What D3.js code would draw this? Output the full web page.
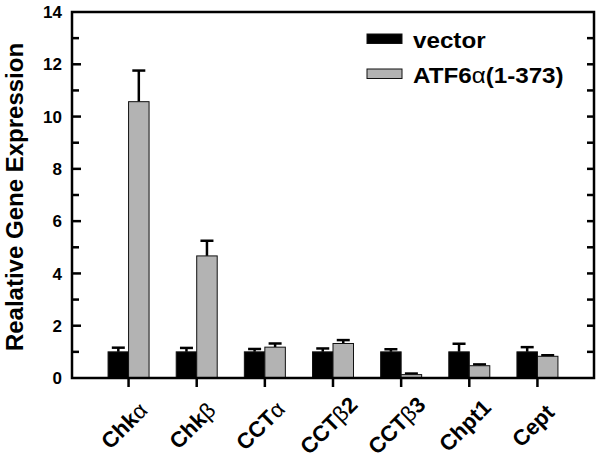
<!DOCTYPE html>
<head>
<meta charset="utf-8">
<script src="https://cdn.jsdelivr.net/npm/d3@7"></script>
<style>
  body { margin: 0; background: #fff; }
  text { font-family: "Liberation Sans", Arial, sans-serif; font-weight: bold; fill: #000; }
</style>
</head>
<body>
<div id="container"></div>
<script>

// Données
const categories = ["Chkα", "Chkβ", "CCTα", "CCTβ2", "CCTβ3", "Chpt1", "Cept"];
const vectorMean = [1.0, 1.0, 1.0, 1.0, 1.0, 1.0, 1.0];
const vectorErr  = [0.16, 0.15, 0.11, 0.13, 0.10, 0.31, 0.18];
const atfMean    = [10.57, 4.67, 1.18, 1.32, 0.13, 0.47, 0.83];
const atfErr     = [1.19, 0.58, 0.14, 0.13, 0.04, 0.05, 0.04];
const seriesNames = ["vector", "ATF6α(1-373)"];
const yTicks = [0, 2, 4, 6, 8, 10, 12, 14];

const W = 601, H = 464;
const pLeft = 72, pRight = 594, pTop = 12, pBottom = 378;

const svg = d3.select("#container").append("svg")
  .attr("width", W).attr("height", H);

// Échelles
const x = d3.scaleBand().domain(categories).range([pLeft, pRight])
  .paddingInner(0).paddingOuter(0.33);
const y = d3.scaleLinear().domain([0, 14]).range([pBottom, pTop]);
const barW = 20.5;
const colors = ["#000", "#b3b3b3"];

const series = [
  { name: seriesNames[0], mean: vectorMean, err: vectorErr, off: -barW },
  { name: seriesNames[1], mean: atfMean, err: atfErr, off: 0 }
];

// Barres d'erreur (seulement vers le haut)
series.forEach((s, si) => {
  const g = svg.append("g");
  categories.forEach((c, i) => {
    const cx = x(c) + x.bandwidth() / 2 + s.off + barW / 2;
    const y0 = y(s.mean[i]), y1 = y(s.mean[i] + s.err[i]);
    g.append("line").attr("x1", cx).attr("x2", cx).attr("y1", y0).attr("y2", y1)
      .attr("stroke", "#000").attr("stroke-width", 2.5);
    g.append("line").attr("x1", cx - 6.5).attr("x2", cx + 6.5).attr("y1", y1).attr("y2", y1)
      .attr("stroke", "#000").attr("stroke-width", 2.5);
  });
});

// Barres
series.forEach((s, si) => {
  svg.append("g").selectAll("rect")
    .data(categories)
    .join("rect")
    .attr("x", c => x(c) + x.bandwidth() / 2 + s.off)
    .attr("width", barW)
    .attr("y", (c, i) => y(s.mean[i]))
    .attr("height", (c, i) => y(0) - y(s.mean[i]))
    .attr("fill", colors[si])
    .attr("stroke", "#111")
    .attr("stroke-width", 1);
});

// Cadre
svg.append("rect")
  .attr("x", pLeft).attr("y", pTop)
  .attr("width", pRight - pLeft).attr("height", pBottom - pTop)
  .attr("fill", "none").attr("stroke", "#000").attr("stroke-width", 2.5);

// Axe Y gauche (ticks vers l'intérieur)
const minor = d3.range(1, 14, 2);
const yl = svg.append("g");
yTicks.forEach(t => {
  if (t > 0 && t < 14)
    yl.append("line").attr("x1", pLeft).attr("x2", pLeft + 9).attr("y1", y(t)).attr("y2", y(t))
      .attr("stroke", "#000").attr("stroke-width", 2.5);
  yl.append("text").attr("x", pLeft - 10).attr("y", y(t)).attr("dy", "0.36em")
    .attr("text-anchor", "end").style("font-size", "17px").text(t);
});
minor.forEach(t => {
  yl.append("line").attr("x1", pLeft).attr("x2", pLeft + 7).attr("y1", y(t)).attr("y2", y(t))
    .attr("stroke", "#000").attr("stroke-width", 2.5);
});
// Axe Y droit
[...yTicks.filter(t => t > 0 && t < 14), ...minor].forEach(t => {
  svg.append("line").attr("x1", pRight).attr("x2", pRight - 7).attr("y1", y(t)).attr("y2", y(t))
    .attr("stroke", "#000").attr("stroke-width", 2.5);
});

// Axe X
const xg = svg.append("g");
categories.forEach(c => {
  const cx = x(c) + x.bandwidth() / 2;
  xg.append("line").attr("x1", cx).attr("x2", cx).attr("y1", pBottom).attr("y2", pBottom + 9)
    .attr("stroke", "#000").attr("stroke-width", 2.5);
  const t = xg.append("text")
    .attr("transform", `translate(${cx + 1},${pBottom + 53}) rotate(-45)`)
    .attr("text-anchor", "middle").style("font-size", "22px");
  // lettres grecques en graisse normale
  c.split(/([αβ])/).filter(p => p).forEach(p => {
    const sp = t.append("tspan").text(p);
    if (/[αβ]/.test(p)) sp.style("font-weight", "normal");
  });
});

// Titre Y
svg.append("text")
  .attr("transform", `translate(23,${(42 + 352) / 2}) rotate(-90)`)
  .attr("text-anchor", "middle").style("font-size", "24px")
  .text("Realative Gene Expression");

// Légende
const lg = svg.append("g");
series.forEach((s, si) => {
  const yy = 34 + si * 35;
  lg.append("rect").attr("x", 367).attr("y", yy).attr("width", 35).attr("height", 9.5)
    .attr("fill", colors[si]).attr("stroke", "#111").attr("stroke-width", 1);
  const t = lg.append("text").attr("transform", `translate(413,${yy + 13.5}) scale(1.1,1)`)
    .style("font-size", "22px");
  s.name.split(/([αβ])/).filter(p => p).forEach(p => {
    const sp = t.append("tspan").text(p);
    if (/[αβ]/.test(p)) sp.style("font-weight", "normal");
  });
});

</script>
</body>
